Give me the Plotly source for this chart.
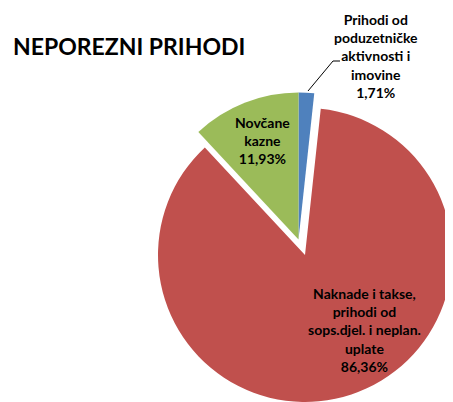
import plotly.graph_objects as go

# ---- data ----
title_text = "NEPOREZNI PRIHODI"
labels = [
    "Prihodi od<br>poduzetničke<br>aktivnosti i<br>imovine",
    "Naknade i takse,<br>prihodi od<br>sops.djel. i neplan.<br>uplate",
    "Novčane<br>kazne",
]
values = [1.71, 86.36, 11.93]
colors = ["#4F81BD", "#C0504D", "#9BBB59"]
exploded = [True, False, True]

# page body has an 8px margin, so the figure is placed at (8, 8) on screen
OFF = 8
W, H = 453 - OFF, 402 - OFF
TRANSPARENT = "rgba(0,0,0,0)"


def px(x):
    return (x - OFF) / W


def py(y):
    return 1 - (y - OFF) / H


R = 147
center_main = (305, 255)
center_expl = (298.5, 239.5)


def domain(c):
    cx, cy = c
    return dict(x=[max(0, px(cx - R)), min(1, px(cx + R))],
                y=[max(0, py(cy + R)), min(1, py(cy - R))])


fig = go.Figure()
for is_expl, c in [(False, center_main), (True, center_expl)]:
    cols = [col if e == is_expl else TRANSPARENT for col, e in zip(colors, exploded)]
    fig.add_trace(go.Pie(
        labels=[l.replace("<br>", " ") for l in labels],
        values=values,
        sort=False,
        direction="clockwise",
        rotation=0,
        marker=dict(colors=cols, line=dict(width=0)),
        textinfo="none",
        hoverinfo="skip",
        showlegend=False,
        domain=domain(c),
    ))


def fmt(v):
    return f"{v:.2f}".replace(".", ",") + "%"


label_pos = [(375.7, 56.3), (364, 329.5), (262.5, 140.5)]
annotations = []
for lab, v, (lx, ly) in zip(labels, values, label_pos):
    annotations.append(dict(
        x=px(lx), y=py(ly), xref="paper", yref="paper",
        text=f"{lab}<br>{fmt(v)}", showarrow=False,
        xanchor="center", yanchor="middle", align="center",
        font=dict(family="Lato", size=14, color="#000000", weight="bold"),
    ))

annotations.append(dict(
    x=px(11), y=py(46), xref="paper", yref="paper",
    text=title_text, showarrow=False, xanchor="left", yanchor="middle",
    font=dict(family="Lato", size=23, color="#000000", weight="bold"),
))

shapes = [dict(
    type="path", xref="paper", yref="paper",
    path=f"M {px(340)} {py(61)} L {px(333)} {py(61)} L {px(308)} {py(91)}",
    line=dict(color="#000000", width=1),
)]

fig.update_layout(
    width=W, height=H,
    margin=dict(l=0, r=0, t=0, b=0),
    paper_bgcolor="white", plot_bgcolor="white",
    annotations=annotations, shapes=shapes,
)

fig.write_html("out.html")
